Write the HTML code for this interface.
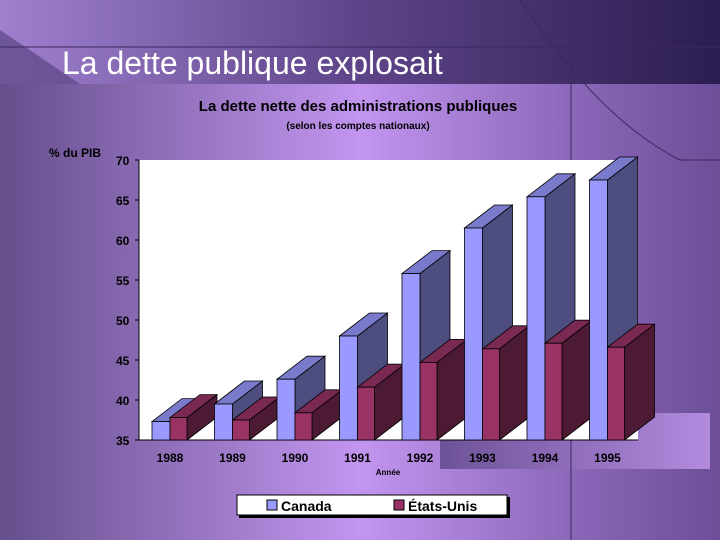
<!DOCTYPE html>
<html><head><meta charset="utf-8"><style>
html,body{margin:0;padding:0;width:720px;height:540px;overflow:hidden}
svg{display:block;font-family:"Liberation Sans",Arial,sans-serif}
</style></head><body>
<svg id="c" width="720" height="540" viewBox="0 0 720 540">
<defs>
<linearGradient id="top" x1="0" x2="1"><stop offset="0" stop-color="#9f80cf"/><stop offset="0.5" stop-color="#5d4488"/><stop offset="1" stop-color="#2c1e50"/></linearGradient>
<linearGradient id="body" x1="0" x2="1"><stop offset="0" stop-color="#654f8c"/><stop offset="0.5" stop-color="#c295ef"/><stop offset="0.8" stop-color="#8a66b8"/><stop offset="1" stop-color="#6c4f98"/></linearGradient>
<linearGradient id="br" x1="0" x2="1"><stop offset="0" stop-color="#5e4688"/><stop offset="1" stop-color="#c49af0"/></linearGradient>
</defs>
<rect width="720" height="540" fill="url(#body)"/>
<rect width="720" height="84" fill="url(#top)"/>
<polygon points="0,30 0,84 80,84" fill="#5a4682" opacity="0.7"/>
<rect x="440" y="413" width="270" height="56" fill="url(#br)" opacity="0.8"/>
<line x1="0" y1="47" x2="720" y2="47" stroke="#3a2860" stroke-width="1"/>
<line x1="571" y1="0" x2="571" y2="540" stroke="#3a2860" stroke-width="1"/>
<path d="M520,0 Q600,120 680,160 L720,160" fill="none" stroke="#3a2860"/>
<text x="62" y="74" font-size="32" fill="#fff">La dette publique explosait</text>
<text x="358" y="111" font-size="15" font-weight="bold" text-anchor="middle" fill="#000">La dette nette des administrations publiques</text>
<text x="358" y="129" font-size="10" font-weight="bold" text-anchor="middle" fill="#000">(selon les comptes nationaux)</text>
<text x="49" y="157" font-size="12" font-weight="bold" fill="#000">% du PIB</text>
<rect x="139" y="160" width="499" height="280" fill="#fff"/>
<line x1="139" y1="160" x2="139" y2="440" stroke="#000"/>
<line x1="139" y1="440" x2="638" y2="440" stroke="#000"/>
<g id="ticks"></g><g id="bars"></g>
<text x="388" y="475" font-size="8" font-weight="bold" text-anchor="middle" fill="#000">Année</text>
<g>
<rect x="239" y="497" width="271" height="21" fill="#000"/>
<rect x="237" y="495" width="270" height="20" fill="#fff" stroke="#000"/>
<rect x="267" y="500" width="10" height="10" fill="#9999ff" stroke="#000"/>
<text x="281" y="511" font-size="14" font-weight="bold">Canada</text>
<rect x="394" y="500" width="10" height="10" fill="#993366" stroke="#000"/>
<text x="408" y="511" font-size="14" font-weight="bold">États-Unis</text>
</g>
</svg>
<script>
const years=["1988","1989","1990","1991","1992","1993","1994","1995"];
const canada=[37.3,39.5,42.6,48,55.8,61.5,65.4,67.5];
const usa=[37.8,37.5,38.4,41.6,44.7,46.4,47.1,46.6];
const yTicks=[35,40,45,50,55,60,65,70];
const NS="http://www.w3.org/2000/svg";
const y=v=>440-(v-35)*8;
const xc=i=>170+i*62.5;
const DX=30,DY=23;
const tg=document.getElementById('ticks'),bg=document.getElementById('bars');
function mk(tag,a,p){const e=document.createElementNS(NS,tag);for(const k in a)e.setAttribute(k,a[k]);p.appendChild(e);return e;}
yTicks.forEach(t=>{
  const tx=mk('text',{x:116,y:y(t)+5,'font-size':12,'font-weight':'bold',fill:'#000'},tg);
  tx.textContent=t;
  
  
  mk('line',{x1:135,y1:y(t),x2:139,y2:y(t),stroke:'#000'},tg);
});
function bar(x,w,v,cf,ct,cs,name){
  const g=mk('g',{},bg);
  
  
  const t=y(v),b=440;
  mk('polygon',{points:`${x+w},${b} ${x+w+DX},${b-DY} ${x+w+DX},${t-DY} ${x+w},${t}`,fill:cs,stroke:'#000','stroke-width':0.8},g);
  mk('polygon',{points:`${x},${t} ${x+DX},${t-DY} ${x+w+DX},${t-DY} ${x+w},${t}`,fill:ct,stroke:'#000','stroke-width':0.8},g);
  mk('rect',{x:x,y:t,width:w,height:b-t,fill:cf,stroke:'#000','stroke-width':0.8},g);
}
years.forEach((yr,i)=>{
  const c=xc(i);
  bar(c-18,18,canada[i],'#9999ff','#7a7acc','#4d4d80','bar-canada-'+yr);
  bar(c,17,usa[i],'#993366','#7a2952','#4d1a33','bar-usa-'+yr);
  const tx=mk('text',{x:c,y:462,'font-size':12,'font-weight':'bold','text-anchor':'middle',fill:'#000'},tg);
  tx.textContent=yr;
  
  
});
</script>
</body></html>
